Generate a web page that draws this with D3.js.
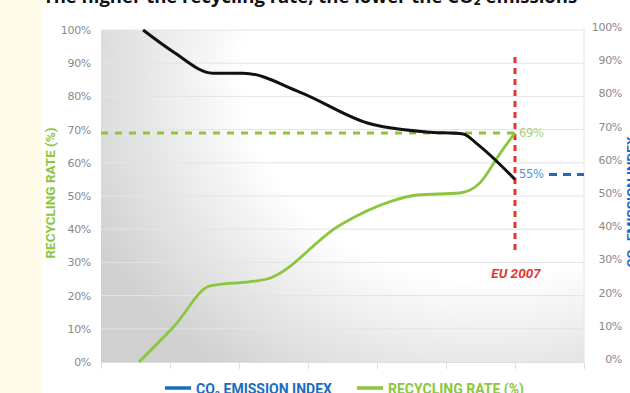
<!DOCTYPE html>
<html><head><meta charset="utf-8">
<script src="https://cdn.jsdelivr.net/npm/d3@7"></script>
<style>body{margin:0;background:#fff;}svg{display:block;}</style>
</head><body>
<svg id="c" width="630" height="393"></svg>
<script>
const yTicks = [0,10,20,30,40,50,60,70,80,90,100];
const xTicks = [0,1,2,3,4,5,6,7];
const emissionX = [0.61, 1.05, 1.62, 2.06, 2.88, 3.86, 4.72, 5.25, 5.45, 6.0];
const emissionY = [100, 93.4, 87, 87, 81.3, 72, 69.3, 68.7, 65.7, 55];
const recyclingX = [0.55, 1.07, 1.58, 2.16, 2.41, 3.46, 4.19, 4.58, 5.2, 5.49, 5.78, 6.0];
const recyclingY = [0, 11, 22.9, 24.2, 25, 41.2, 48.3, 50.3, 50.9, 53.9, 62.7, 69];
const euYear = 6, recyclingTarget = 69, emissionTarget = 55;
const legendLabels = ["CO\u2082 EMISSION INDEX", "RECYCLING RATE (%)"];

const svg = d3.select("#c");
const green = "#8cc63f", blue = "#1b6cc0", red = "#e8332b";
const x = d3.scaleLinear().domain([0,7]).range([101,584]);
const y = d3.scaleLinear().domain([0,100]).range([362,30]);

svg.append("rect").attr("x",0).attr("y",0).attr("width",42).attr("height",393).attr("fill","#fffbe9");

const defs = svg.append("defs");
const rg = defs.append("radialGradient").attr("id","bg").attr("gradientUnits","userSpaceOnUse")
  .attr("cx",480).attr("cy",70).attr("r",430).attr("gradientTransform","translate(480,70) scale(1.0,0.88) translate(-480,-70)");
rg.append("stop").attr("offset",0).attr("stop-color","#fff");
rg.append("stop").attr("offset",0.55).attr("stop-color","#fff");
rg.append("stop").attr("offset",1).attr("stop-color","#d0d0d0");
svg.append("rect").attr("x",x(0)).attr("y",y(100)).attr("width",x(7)-x(0)).attr("height",y(0)-y(100)).attr("fill","url(#bg)");

// title
svg.append("text").attr("x",43).attr("y",3).attr("font-family","Open Sans").attr("font-weight","bold")
  .attr("font-size",18.5).attr("fill","#111").text("The higher the recycling rate, the lower the CO\u2082 emissions");

// grid
svg.append("g").selectAll("line").data(yTicks.slice(1)).join("line")
  .attr("x1",x(0)).attr("x2",x(7)).attr("y1",d=>y(d)).attr("y2",d=>y(d)).attr("stroke","#e4e4e4").attr("stroke-width",1);

// x axis
const xa = svg.append("g").attr("transform",`translate(0,${y(0)})`)
  .call(d3.axisBottom(x).tickValues(xTicks).tickSize(7).tickFormat(""));
xa.select(".domain").attr("stroke","#e0e0e0");
xa.selectAll(".tick line").attr("stroke","#e0e0e0");
svg.append("line").attr("x1",x(7)).attr("x2",x(7)).attr("y1",y(100)-2).attr("y2",y(0)).attr("stroke","#e6e6e6");

// y axes
const fmt = d=>d+"%";
const la = svg.append("g").attr("transform","translate(91,0)")
  .call(d3.axisLeft(y).tickValues(yTicks).tickSize(0).tickPadding(0).tickFormat(fmt));
la.select(".domain").remove();
la.selectAll("text").attr("font-family","DejaVu Sans").attr("font-size",11).attr("fill","#8a8a8a").attr("letter-spacing",-0.3);
const ra = svg.append("g").attr("transform","translate(622,-3)")
  .call(d3.axisLeft(y).tickValues(yTicks).tickSize(0).tickPadding(0).tickFormat(fmt));
ra.select(".domain").remove();
ra.selectAll("text").attr("font-family","DejaVu Sans").attr("font-size",11).attr("fill","#8a8a8a").attr("letter-spacing",-0.3);

// axis titles
svg.append("text").attr("transform","translate(55,193) rotate(-90)").attr("text-anchor","middle")
  .attr("font-family","Roboto").attr("font-weight","bold").attr("font-size",13.5).attr("fill",green).text(legendLabels[1]);
svg.append("text").attr("transform","translate(636,202) rotate(-90)").attr("text-anchor","middle")
  .attr("font-family","Roboto").attr("font-weight","bold").attr("font-size",13.5).attr("fill",blue).text(legendLabels[0]);

// reference lines
svg.append("line").attr("x1",x(0)).attr("x2",x(euYear)).attr("y1",y(recyclingTarget)).attr("y2",y(recyclingTarget))
  .attr("stroke",green).attr("stroke-width",3).attr("stroke-dasharray","7,7");
svg.append("line").attr("x1",x(euYear)+34).attr("x2",x(7)).attr("y1",y(emissionTarget)-5).attr("y2",y(emissionTarget)-5)
  .attr("stroke",blue).attr("stroke-width",3).attr("stroke-dasharray","8,6");
svg.append("line").attr("x1",x(euYear)).attr("x2",x(euYear)).attr("y1",57).attr("y2",252)
  .attr("stroke",red).attr("stroke-width",3).attr("stroke-dasharray","6,5");

svg.append("text").attr("x",x(euYear)+4).attr("y",y(recyclingTarget)+4).attr("font-family","DejaVu Sans").attr("font-size",11.5)
  .attr("fill","#a9d27a").attr("letter-spacing",-0.3).text(recyclingTarget+"%");
svg.append("text").attr("x",x(euYear)+4).attr("y",y(emissionTarget)-1).attr("font-family","DejaVu Sans").attr("font-size",11.5)
  .attr("fill","#4f93d8").attr("letter-spacing",-0.3).text(emissionTarget+"%");
svg.append("text").attr("x",x(euYear)+1).attr("y",278).attr("text-anchor","middle").attr("font-family","Roboto")
  .attr("font-weight","bold").attr("font-style","italic").attr("font-size",13.5).attr("fill",red).text("EU 2007");

// lines
const line = d3.line().x(d=>x(d[0])).y(d=>y(d[1])).curve(d3.curveMonotoneX);
svg.append("path").attr("d",line(recyclingX.map((v,i)=>[v,recyclingY[i]]))).attr("fill","none")
  .attr("stroke",green).attr("stroke-width",2.8);
svg.append("path").attr("d",line(emissionX.map((v,i)=>[v,emissionY[i]]))).attr("fill","none")
  .attr("stroke","#111").attr("stroke-width",3);

// legend
const lg = [{c:blue,t:legendLabels[0],x:165},{c:green,t:legendLabels[1],x:357}];
lg.forEach(d=>{
  svg.append("line").attr("x1",d.x).attr("x2",d.x+26).attr("y1",388).attr("y2",388).attr("stroke",d.c).attr("stroke-width",3.5);
  svg.append("text").attr("x",d.x+31).attr("y",394).attr("font-family","Roboto").attr("font-weight","bold")
    .attr("font-size",14).attr("fill",d.c).text(d.t);
});
</script>
</body></html>
